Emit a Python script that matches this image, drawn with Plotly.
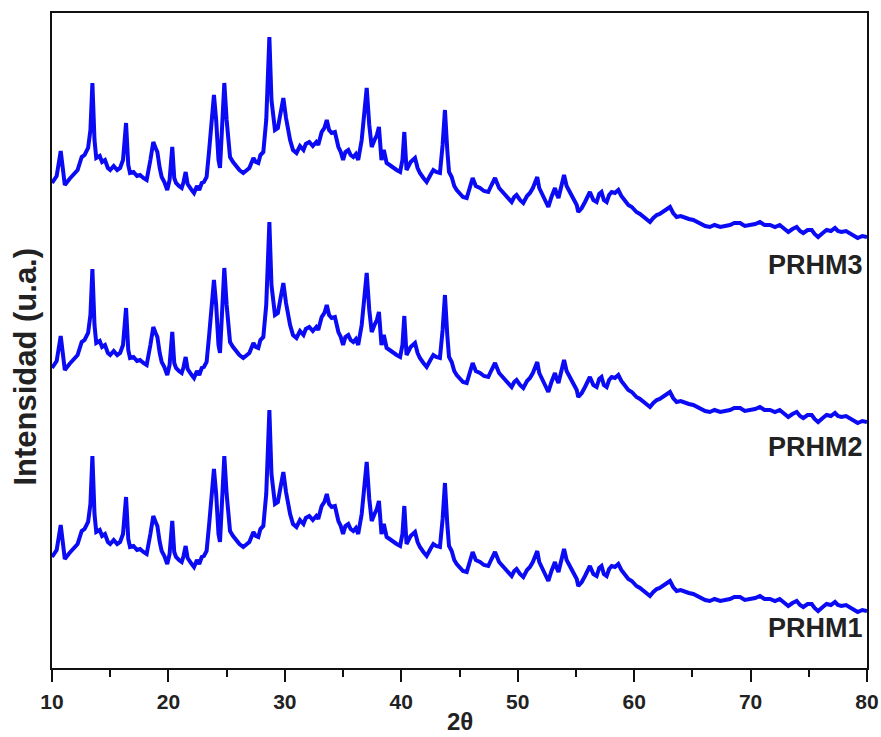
import plotly.graph_objects as go

# 2-theta positions (degrees)
two_theta = [
    10.0, 10.4, 10.75, 11.1, 11.5, 11.8, 12.2, 12.55, 12.8, 13.1,
    13.3, 13.47, 13.65, 13.8, 14.1, 14.3, 14.55, 14.8, 15.0, 15.3,
    15.6, 15.85, 16.1, 16.36, 16.55, 16.7, 17.0, 17.3, 17.56, 17.85,
    18.13, 18.45, 18.7, 18.9, 19.05, 19.25, 19.42, 19.65, 19.9, 20.1,
    20.33, 20.5, 20.65, 20.9, 21.14, 21.3, 21.48, 21.65, 21.85, 22.0,
    22.2, 22.45, 22.65, 22.86, 23.05, 23.28, 23.5, 23.75, 23.91, 24.1,
    24.3, 24.43, 24.6, 24.8, 25.0, 25.29, 25.55, 25.86, 26.1, 26.43,
    26.7, 26.95, 27.3, 27.5, 27.72, 27.9, 28.15, 28.4, 28.67, 28.85,
    29.15, 29.4, 29.6, 29.87, 30.1, 30.45, 30.7, 31.0, 31.3, 31.6,
    31.8, 32.1, 32.4, 32.7, 32.87, 33.16, 33.4, 33.6, 33.8, 34.02,
    34.3, 34.6, 34.8, 35.0, 35.2, 35.45, 35.65, 35.88, 36.1, 36.3,
    36.6, 36.85, 37.03, 37.25, 37.46, 37.7, 37.9, 38.08, 38.2, 38.3,
    38.5, 38.74, 39.0, 39.3, 39.6, 39.9, 40.1, 40.26, 40.45, 40.8,
    41.18, 41.4, 41.6, 41.9, 42.18, 42.5, 42.75, 43.0, 43.32, 43.55,
    43.75, 43.95, 44.1, 44.33, 44.55, 44.76, 45.0, 45.3, 45.62, 45.9,
    46.13, 46.4, 46.76, 47.1, 47.47, 47.75, 48.05, 48.4, 48.76, 49.1,
    49.48, 49.7, 49.9, 50.2, 50.48, 50.8, 51.05, 51.3, 51.68, 51.85,
    52.06, 52.35, 52.63, 52.9, 53.2, 53.35, 53.5, 53.75, 53.98, 54.2,
    54.5, 54.8, 55.07, 55.2, 55.5, 55.78, 56.0, 56.2, 56.5, 56.78,
    57.0, 57.2, 57.4, 57.64, 57.85, 58.07, 58.35, 58.64, 58.9, 59.2,
    59.5, 59.8, 60.0, 60.2, 60.5, 60.8, 61.1, 61.36, 61.65, 61.94,
    62.2, 62.5, 62.8, 63.08, 63.35, 63.65, 64.0, 64.37, 64.7, 65.08,
    65.4, 65.66, 66.1, 66.5, 66.9, 67.4, 67.8, 68.23, 68.6, 69.1,
    69.5, 69.95, 70.4, 70.8, 71.2, 71.67, 72.1, 72.5, 72.9, 73.24,
    73.6, 73.96, 74.25, 74.53, 74.9, 75.25, 75.5, 75.8, 76.2, 76.53,
    76.9, 77.25, 77.5, 77.8, 78.2, 78.5, 78.85, 79.2, 79.6, 80.0,
]

# Intensities (arbitrary units)
prhm3 = [
    55, 62, 87, 53, 59, 63, 68, 81, 83, 90,
    108, 155, 98, 80, 82, 76, 78, 70, 68, 72,
    68, 70, 78, 115, 73, 65, 66, 62, 63, 60,
    58, 78, 96, 90, 86, 70, 61, 56, 48, 58,
    91, 60, 55, 52, 50, 56, 66, 54, 50, 48,
    45, 52, 48, 55, 56, 61, 88, 130, 143, 118,
    78, 70, 108, 155, 118, 81, 76, 71, 68, 65,
    68, 70, 80, 76, 75, 83, 86, 118, 201, 138,
    108, 110, 123, 140, 120, 98, 88, 85, 92, 88,
    94, 96, 92, 96, 93, 106, 110, 118, 108, 105,
    106, 91, 86, 78, 86, 88, 83, 81, 84, 78,
    98, 128, 150, 113, 91, 98, 103, 111, 93, 78,
    88, 75, 73, 70, 68, 66, 78, 106, 68, 76,
    80, 70, 65, 60, 56, 63, 68, 66, 65, 93,
    128, 88, 66, 61, 52, 48, 45, 41, 40, 50,
    60, 52, 50, 47, 46, 53, 60, 50, 45, 41,
    36, 41, 43, 38, 35, 42, 45, 50, 61, 50,
    45, 38, 31, 41, 50, 44, 40, 52, 63, 52,
    45, 38, 33, 26, 30, 36, 42, 46, 38, 36,
    44, 46, 38, 36, 43, 46, 45, 48, 42, 38,
    33, 31, 28, 26, 24, 21, 19, 16, 20, 23,
    24, 26, 28, 31, 25, 21, 22, 20, 19, 18,
    16, 15, 12, 11, 13, 11, 12, 13, 15, 15,
    12, 13, 14, 16, 13, 13, 11, 13, 9, 6,
    9, 11, 7, 5, 8, 8, 4, 1, 5, 8,
    7, 10, 7, 6, 7, 5, 2, 0, 2, 1,
]

prhm2 = [
    55, 62, 87, 53, 59, 63, 68, 81, 83, 90,
    108, 154, 98, 80, 82, 76, 78, 70, 68, 72,
    68, 70, 78, 115, 73, 65, 66, 62, 63, 60,
    58, 78, 96, 90, 86, 70, 61, 56, 48, 58,
    91, 60, 55, 52, 50, 56, 66, 54, 50, 48,
    45, 52, 48, 55, 56, 61, 88, 130, 143, 118,
    78, 70, 108, 155, 118, 81, 76, 71, 68, 65,
    68, 70, 80, 76, 75, 83, 86, 118, 201, 138,
    108, 110, 123, 140, 120, 98, 88, 85, 92, 88,
    94, 96, 92, 96, 93, 106, 110, 118, 108, 105,
    106, 91, 86, 78, 86, 88, 83, 81, 84, 78,
    98, 128, 150, 113, 91, 98, 103, 111, 93, 78,
    88, 75, 73, 70, 68, 66, 78, 107, 68, 76,
    80, 70, 65, 60, 56, 63, 68, 66, 65, 93,
    128, 88, 66, 61, 52, 48, 45, 41, 40, 50,
    60, 52, 50, 47, 46, 53, 60, 50, 45, 41,
    36, 41, 43, 38, 35, 42, 45, 50, 61, 50,
    45, 38, 31, 41, 50, 44, 40, 52, 63, 52,
    45, 38, 33, 26, 30, 36, 42, 46, 38, 36,
    44, 46, 38, 36, 43, 46, 45, 48, 42, 38,
    33, 31, 28, 26, 24, 21, 19, 16, 20, 23,
    24, 26, 28, 31, 25, 21, 22, 20, 19, 18,
    16, 15, 12, 11, 13, 11, 12, 13, 15, 15,
    12, 13, 14, 16, 13, 13, 11, 13, 9, 6,
    9, 11, 7, 5, 8, 8, 4, 1, 5, 8,
    7, 10, 7, 6, 7, 5, 2, 0, 2, 1,
]

prhm1 = [
    55, 62, 87, 53, 59, 63, 68, 81, 83, 90,
    108, 156, 98, 80, 82, 76, 78, 70, 68, 72,
    68, 70, 78, 115, 73, 65, 66, 62, 63, 60,
    58, 78, 96, 90, 86, 70, 61, 56, 48, 58,
    91, 60, 55, 52, 50, 56, 66, 54, 50, 48,
    45, 52, 48, 55, 56, 61, 88, 130, 143, 118,
    78, 70, 108, 156, 118, 81, 76, 71, 68, 65,
    68, 70, 80, 76, 75, 83, 86, 118, 202, 138,
    108, 110, 123, 140, 120, 98, 88, 85, 92, 88,
    94, 96, 92, 96, 93, 106, 110, 118, 108, 105,
    106, 91, 86, 78, 86, 88, 83, 81, 84, 78,
    98, 128, 150, 113, 91, 98, 103, 111, 93, 78,
    88, 75, 73, 70, 68, 66, 78, 106, 68, 76,
    80, 70, 65, 60, 56, 63, 68, 66, 65, 93,
    129, 88, 66, 61, 52, 48, 45, 41, 40, 50,
    60, 52, 50, 47, 46, 53, 60, 50, 45, 41,
    36, 41, 43, 38, 35, 42, 45, 50, 61, 50,
    45, 38, 31, 41, 50, 44, 40, 52, 63, 52,
    45, 38, 33, 26, 30, 36, 42, 46, 38, 36,
    44, 46, 38, 36, 43, 46, 45, 48, 42, 38,
    33, 31, 28, 26, 24, 21, 19, 16, 20, 23,
    24, 26, 28, 31, 25, 21, 22, 20, 19, 18,
    16, 15, 12, 11, 13, 11, 12, 13, 15, 15,
    12, 13, 14, 16, 13, 13, 11, 13, 9, 6,
    9, 11, 7, 5, 8, 8, 4, 1, 5, 8,
    7, 10, 7, 6, 7, 5, 2, 0, 2, 1,
]

series_names = ["PRHM1", "PRHM2", "PRHM3"]
series_values = [prhm1, prhm2, prhm3]
x_tick_values = [10, 20, 30, 40, 50, 60, 70, 80]
x_tick_labels = ["10", "20", "30", "40", "50", "60", "70", "80"]

# presentation: vertical stacking offsets and label positions
stack_offsets = [56, 245, 430]
label_y = [40, 221, 403]

FONT = "Liberation Sans, Arial, sans-serif"
BLUE = "#0a0af5"

fig = go.Figure()
for name, vals, off in zip(series_names, series_values, stack_offsets):
    fig.add_trace(go.Scatter(
        x=two_theta,
        y=[v + off for v in vals],
        mode="lines",
        name=name,
        line=dict(color=BLUE, width=4),
        showlegend=False,
    ))

for name, ly in zip(series_names, label_y):
    fig.add_annotation(
        x=1, xref="paper", xanchor="right", xshift=-2,
        y=ly, yref="y", yanchor="middle",
        text=name, showarrow=False,
        font=dict(family=FONT, size=27, color="#222222", weight="bold"),
    )

fig.add_annotation(
    x=-0.032, xref="paper", xanchor="center",
    y=0.46, yref="paper", yanchor="middle",
    text="Intensidad (u.a.)", textangle=-90, showarrow=False,
    font=dict(family=FONT, size=31, color="#222222", weight="bold"),
)
fig.add_annotation(
    x=0.5, xref="paper", xanchor="center",
    y=-0.1053, yref="paper", yanchor="bottom",
    text="2θ", showarrow=False,
    font=dict(family=FONT, size=24, color="#222222", weight="bold"),
)

fig.update_layout(
    width=881, height=737,
    margin=dict(l=52, r=14, t=13, b=69, autoexpand=False),
    paper_bgcolor="white",
    plot_bgcolor="white",
    showlegend=False,
)
fig.update_xaxes(
    range=[10, 80], automargin=False,
    tickmode="array", tickvals=x_tick_values, ticktext=x_tick_labels,
    ticks="outside", ticklen=12, tickwidth=2, tickcolor="#111111",
    minor=dict(dtick=5, tick0=10, ticks="outside", ticklen=7, tickwidth=2, tickcolor="#111111"),
    tickfont=dict(family=FONT, size=21, color="#222222", weight="bold"),
    ticklabelstandoff=2,
    showline=True, linewidth=2, linecolor="#111111", mirror=True,
    showgrid=False, zeroline=False,
)
fig.update_yaxes(
    range=[0, 655], automargin=False,
    showticklabels=False, ticks="",
    showline=True, linewidth=2, linecolor="#111111", mirror=True,
    showgrid=False, zeroline=False,
)

fig.write_html(
    "out.html",
    config={"displayModeBar": False},
    post_script="document.body.style.margin='0';document.body.style.overflow='hidden';",
)
